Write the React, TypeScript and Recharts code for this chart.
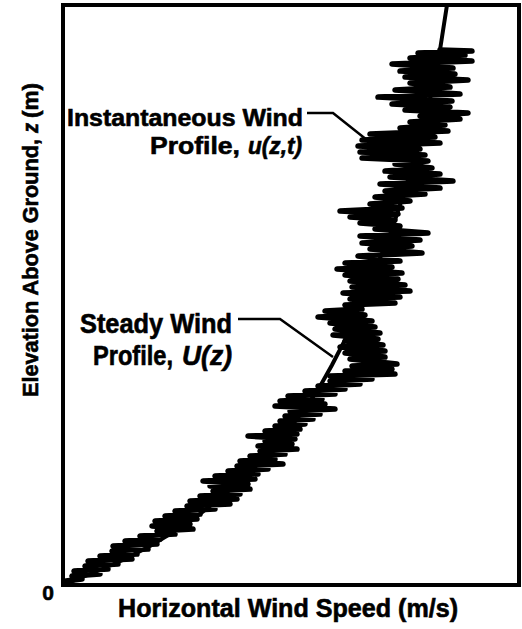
import React from 'react';
import { ComposedChart, Line, XAxis, YAxis, ReferenceArea, Customized } from 'recharts';

// Horizontal wind speed (arbitrary m/s scale) and elevation (arbitrary m scale)
const speedMax = 45.6;
const heightMax = 58;

// Steady wind profile U(z): [speed, elevation]
const steadyProfile: [number, number][] = [
  [0, 0], [1.7, 0.7], [3.7, 1.5], [6.2, 2.6], [8.7, 3.9], [11.2, 5.4], [13.7, 7.1],
  [16.2, 9.1], [18.7, 11.3], [20.7, 13.3], [22.7, 15.7], [24.2, 17.7], [25.5, 19.5],
  [26.9, 22.0], [28.2, 24.5], [29.9, 28.5], [31.4, 32.0], [32.7, 35.0], [33.7, 38.0],
  [34.5, 40.5], [35.3, 43.0], [36.1, 46.0], [36.9, 49.5], [37.7, 53.5], [38.4, 58.0],
];

// Instantaneous wind profile u(z,t): [speed, elevation]
const instantLow: [number, number][] = [
  [0, 0], [0.3, 0.4], [1.9, 0.6], [0.9, 0.9], [3.7, 1.1], [1.1, 1.4], [4.5, 1.6], [2.2, 1.9],
  [5.5, 2.1], [2.5, 2.4], [6.9, 2.6], [3.7, 2.9], [7.4, 3.1], [4.9, 3.4], [8.5, 3.6],
  [5.0, 3.9], [9.4, 4.1], [6.2, 4.4], [9.7, 4.6], [7.7, 4.9], [11.2, 5.1], [9.4, 5.4],
  [13.0, 5.6], [8.9, 5.9], [12.7, 6.1], [9.2, 6.4], [13.4, 6.6], [10.2, 6.9], [13.7, 7.1],
  [11.2, 7.4], [15.2, 7.6], [12.4, 7.9], [16.7, 8.1], [12.7, 8.4], [17.4, 8.6], [13.7, 8.9],
  [17.7, 9.1], [15.0, 9.4], [18.7, 9.6], [14.7, 9.9], [18.5, 10.1], [14.0, 10.4], [19.2, 10.6],
  [15.2, 10.9], [19.5, 11.1], [16.5, 11.4], [20.5, 11.6], [17.4, 11.9], [22.0, 12.1],
  [17.7, 12.4], [21.2, 12.6], [18.7, 12.9], [22.2, 13.1], [19.7, 13.4], [23.4, 13.6],
  [19.5, 13.9], [22.9, 14.1], [20.2, 14.4], [23.2, 14.6], [18.5, 14.9], [23.4, 15.1],
  [20.2, 15.4], [23.7, 15.6], [21.2, 15.9], [24.2, 16.1], [21.7, 16.4], [25.0, 16.6],
  [22.2, 16.9], [25.7, 17.1], [22.7, 17.4], [27.2, 17.6], [21.2, 17.9], [26.2, 18.1],
  [21.7, 18.4], [25.9, 18.6], [22.5, 18.9], [27.2, 19.1],
];
const instantMid: [number, number][] = [
  [24.2, 19.4], [28.2, 19.6], [25.5, 19.9], [29.7, 20.1], [26.7, 20.4], [30.9, 20.6],
  [26.7, 20.9], [33.2, 21.1], [28.2, 21.4], [32.9, 21.6], [28.9, 21.9], [33.4, 22.1],
  [28.7, 22.6], [32.2, 22.8], [28.2, 23.2], [32.2, 23.4], [27.7, 23.8], [32.0, 24.0],
  [28.2, 24.4], [31.5, 24.6], [27.0, 25.0], [31.7, 25.2], [27.2, 25.6], [31.2, 25.8],
  [26.7, 26.2], [30.9, 26.4], [25.5, 26.8], [30.2, 27.0], [26.2, 27.4], [29.9, 27.6],
  [28.2, 28.0], [33.2, 28.2], [28.7, 28.6], [33.7, 28.8], [28.0, 29.2], [34.7, 29.4],
  [28.9, 29.8], [34.2, 30.0], [28.7, 30.4], [33.5, 30.6], [28.2, 31.0], [33.9, 31.2],
  [27.4, 31.6], [32.9, 31.8], [28.2, 32.2], [33.7, 32.4],
];
const instantHigh: [number, number][] = [
  [29.5, 32.9], [35.9, 33.2], [30.7, 33.6], [34.9, 33.9], [29.9, 34.2], [35.7, 34.5],
  [29.7, 34.9], [36.5, 35.2], [31.2, 35.6], [33.7, 35.9], [29.7, 36.2], [33.2, 36.5],
  [28.7, 36.8], [33.5, 37.1], [27.7, 37.4], [33.9, 37.7], [30.7, 38.1], [34.7, 38.4],
  [31.2, 38.8], [36.2, 39.1], [32.2, 39.4], [37.7, 39.7], [31.7, 40.1], [39.0, 40.4],
  [32.7, 40.8], [37.7, 41.1], [32.2, 41.4], [36.9, 41.7], [33.2, 42.1], [36.5, 42.4],
  [29.9, 42.7], [36.2, 43.0], [29.7, 43.3], [35.7, 43.6], [29.5, 43.9], [37.7, 44.2],
  [29.9, 44.5], [37.2, 44.8], [30.7, 45.1], [38.5, 45.4], [33.7, 45.7], [38.2, 46.0],
  [34.7, 46.3], [39.7, 46.6], [35.7, 46.9], [40.5, 47.2], [34.2, 47.5], [38.7, 47.8],
  [32.9, 48.1], [38.9, 48.4], [31.5, 48.8], [39.7, 49.1], [33.2, 49.5], [38.7, 49.8],
  [34.7, 50.2], [40.5, 50.5], [34.2, 50.8], [39.2, 51.1], [33.7, 51.4], [39.0, 51.7],
  [32.9, 52.1], [40.9, 52.4], [34.7, 52.7], [40.2, 53.0], [35.5, 53.2], [40.9, 53.4],
  [37.7, 53.5],
];

// Leader lines of the two callouts
const instantLeader: [number, number][] = [[24.4, 47.2], [27.0, 47.2], [30.4, 44.5]];
const steadyLeader: [number, number][] = [[17.5, 26.6], [21.7, 26.6], [27.0, 22.8]];

const toRows = (pts: [number, number][]) => pts.map(([u, z]) => ({ u, z }));

const FONT = '"Liberation Sans", Arial, Helvetica, sans-serif';

function Annotations() {
  return (
    <g fontFamily={FONT} fontWeight={700} fill="#000" stroke="#000" strokeWidth={0.6}>
      <text x={67} y={126} fontSize={24} textLength={236} lengthAdjust="spacingAndGlyphs">
        Instantaneous Wind
      </text>
      <text x={150} y={154} fontSize={24} textLength={90} lengthAdjust="spacingAndGlyphs">
        Profile,
      </text>
      <text x={248} y={154} fontSize={24} fontStyle="italic" textLength={54} lengthAdjust="spacingAndGlyphs">
        u(z,t)
      </text>
      <text x={80} y={333} fontSize={27} textLength={152} lengthAdjust="spacingAndGlyphs">
        Steady Wind
      </text>
      <text x={93} y={365} fontSize={27} textLength={80} lengthAdjust="spacingAndGlyphs">
        Profile,
      </text>
      <text x={182} y={365} fontSize={27} fontStyle="italic" textLength={50} lengthAdjust="spacingAndGlyphs">
        U(z)
      </text>
      <text x={118} y={617} fontSize={25} textLength={340} lengthAdjust="spacingAndGlyphs">
        Horizontal Wind Speed (m/s)
      </text>
      <text x={48} y={600} fontSize={21} textAnchor="middle">0</text>
      <g transform="translate(38,397) rotate(-90)">
        <text x={0} y={0} fontSize={22} textLength={258} lengthAdjust="spacingAndGlyphs">
          Elevation Above Ground,
        </text>
        <text x={264} y={0} fontSize={22} fontStyle="italic" textLength={10} lengthAdjust="spacingAndGlyphs">
          z
        </text>
        <text x={279} y={0} fontSize={22} textLength={35} lengthAdjust="spacingAndGlyphs">
          (m)
        </text>
      </g>
    </g>
  );
}

const instantRows = toRows([...instantLow, ...instantMid, ...instantHigh]);

export default function App() {
  return (
    <div style={{ position: 'absolute', left: 0, top: 0, width: 522, height: 629, background: '#fff' }}>
      <ComposedChart width={522} height={629} margin={{ top: 5, right: 3, bottom: 44, left: 63 }}>
        <XAxis type="number" dataKey="u" domain={[0, speedMax]} hide allowDataOverflow />
        <YAxis type="number" dataKey="z" domain={[0, heightMax]} hide allowDataOverflow />
        <Line
          data={instantRows}
          dataKey="z"
          type="linear"
          stroke="#000"
          strokeWidth={5.5}
          strokeLinejoin="round"
          strokeLinecap="round"
          dot={false}
          activeDot={false}
          isAnimationActive={false}
        />
        <Line
          data={toRows(steadyProfile)}
          dataKey="z"
          type="linear"
          stroke="#000"
          strokeWidth={4}
          dot={false}
          activeDot={false}
          isAnimationActive={false}
        />
        <Line
          data={toRows(instantLeader)}
          dataKey="z"
          type="linear"
          stroke="#000"
          strokeWidth={2.5}
          dot={false}
          activeDot={false}
          isAnimationActive={false}
        />
        <Line
          data={toRows(steadyLeader)}
          dataKey="z"
          type="linear"
          stroke="#000"
          strokeWidth={2.5}
          dot={false}
          activeDot={false}
          isAnimationActive={false}
        />
        <ReferenceArea
          x1={0}
          x2={speedMax}
          y1={0}
          y2={heightMax}
          fill="none"
          stroke="#000"
          strokeWidth={4}
          ifOverflow="visible"
        />
        <Customized component={<Annotations />} />
      </ComposedChart>
    </div>
  );
}
